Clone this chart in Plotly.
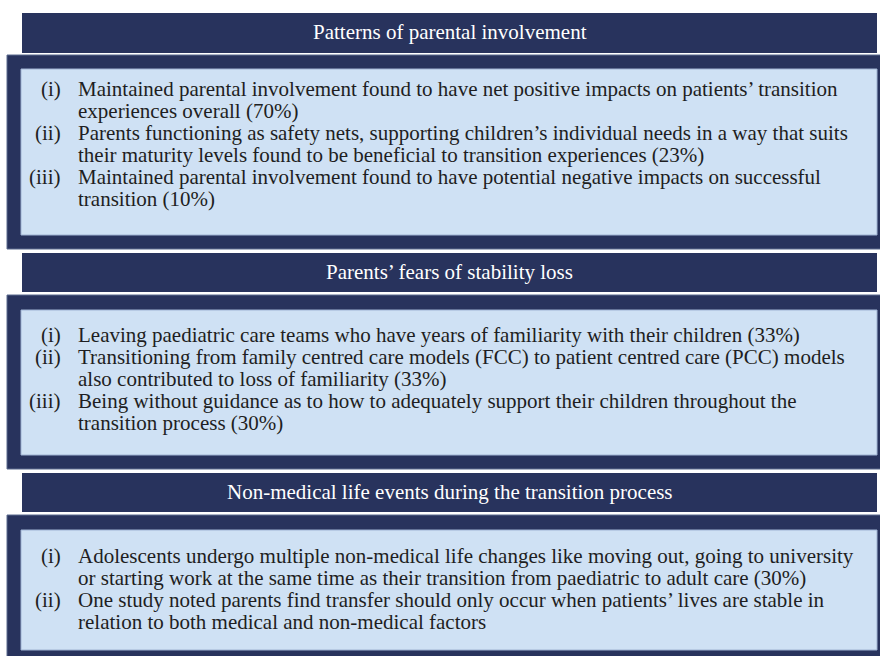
import plotly.graph_objects as go

# ---------------- content ----------------
section_titles = [
    "Patterns of parental involvement",
    "Parents’ fears of stability loss",
    "Non-medical life events during the transition process",
]

numerals = ["(i)", "(ii)", "(iii)"]

items_section1 = [
    ["Maintained parental involvement found to have net positive impacts on patients’ transition",
     "experiences overall (70%)"],
    ["Parents functioning as safety nets, supporting children’s individual needs in a way that suits",
     "their maturity levels found to be beneficial to transition experiences (23%)"],
    ["Maintained parental involvement found to have potential negative impacts on successful",
     "transition (10%)"],
]
items_section2 = [
    ["Leaving paediatric care teams who have years of familiarity with their children (33%)"],
    ["Transitioning from family centred care models (FCC) to patient centred care (PCC) models",
     "also contributed to loss of familiarity (33%)"],
    ["Being without guidance as to how to adequately support their children throughout the",
     "transition process (30%)"],
]
items_section3 = [
    ["Adolescents undergo multiple non-medical life changes like moving out, going to university",
     "or starting work at the same time as their transition from paediatric to adult care (30%)"],
    ["One study noted parents find transfer should only occur when patients’ lives are stable in",
     "relation to both medical and non-medical factors"],
]
section_items = [items_section1, items_section2, items_section3]

# ---------------- layout (pixels) ----------------
W, H = 880, 656
header_boxes = [(13, 53), (253, 292), (473, 512)]
outer_boxes = [(55, 249), (295, 469), (515, 662)]
inner_boxes = [(69, 235), (310, 455), (530, 650)]
first_line_y = [89, 335, 556]
HEADER_X = (22, 877)
OUTER_X = (7, 886)
INNER_X = (21, 877)
NUM_RIGHT = 63
TEXT_LEFT = 76
LINE_H = 22

DARK = "#28335d"
LIGHT = "#cfe1f4"
EDGE = "#5b6a8e"
FONT = "Liberation Serif, Times New Roman, serif"
FS = 21

fig = go.Figure()
shapes = []
annotations = []

for s, title in enumerate(section_titles):
    ht, hb = header_boxes[s]
    ot, ob = outer_boxes[s]
    it, ib = inner_boxes[s]
    shapes.append(dict(type="rect", x0=HEADER_X[0], x1=HEADER_X[1], y0=ht, y1=hb,
                       fillcolor=DARK, line=dict(width=0), layer="below"))
    shapes.append(dict(type="rect", x0=OUTER_X[0], x1=OUTER_X[1], y0=ot, y1=ob,
                       fillcolor=DARK, line=dict(width=1, color=EDGE), layer="below"))
    shapes.append(dict(type="rect", x0=INNER_X[0], x1=INNER_X[1], y0=it, y1=ib,
                       fillcolor=LIGHT, line=dict(width=1, color="#9fb3d3"), layer="below"))
    annotations.append(dict(x=(HEADER_X[0] + HEADER_X[1]) / 2, y=(ht + hb) / 2 - 1,
                            text=title, showarrow=False, xanchor="center", yanchor="middle",
                            font=dict(family=FONT, size=FS, color="white")))
    lines = []
    for k, item in enumerate(section_items[s]):
        for j, ln in enumerate(item):
            lines.append((numerals[k] if j == 0 else "", ln))
    for i, (num, ln) in enumerate(lines):
        y = first_line_y[s] + i * LINE_H
        if num:
            annotations.append(dict(x=NUM_RIGHT, y=y, text=num, showarrow=False,
                                    xanchor="right", yanchor="middle",
                                    font=dict(family=FONT, size=FS, color="#1e1e22")))
        annotations.append(dict(x=TEXT_LEFT, y=y, text=ln, showarrow=False,
                                xanchor="left", yanchor="middle",
                                font=dict(family=FONT, size=FS, color="#1e1e22")))

fig.update_layout(
    width=W, height=H,
    margin=dict(l=0, r=0, t=0, b=0),
    paper_bgcolor="white", plot_bgcolor="white",
    xaxis=dict(range=[0, W], visible=False, fixedrange=True),
    yaxis=dict(range=[H, 0], visible=False, fixedrange=True),
    shapes=shapes, annotations=annotations, showlegend=False,
)

fig.write_html(
    "out.html",
    config={"displayModeBar": False},
    post_script="document.body.style.margin='0';document.body.style.overflow='hidden';",
)
